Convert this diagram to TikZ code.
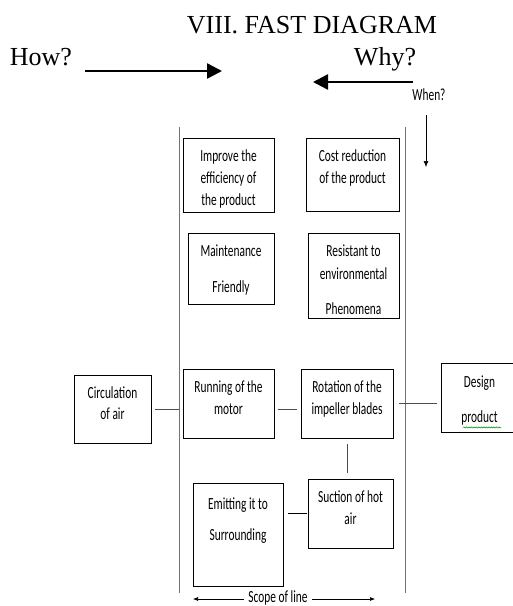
\documentclass[tikz,border=0pt]{standalone}
\usepackage{fontspec}
\setmainfont{Liberation Serif}
\newfontfamily\calibri{Carlito}[FakeStretch=0.67]
\usetikzlibrary{arrows.meta,decorations.pathmorphing}

\begin{document}
\begin{tikzpicture}
  [x=1pt,y=-1pt,
   fbox/.style={draw,line width=0.8pt,inner sep=0pt},
   ftext/.style={anchor=north,align=center,inner sep=0pt,yshift=-12pt,
     font=\calibri\fontsize{17}{22}\selectfont},
   big/.style={font=\fontsize{26}{30}\selectfont,anchor=base,inner sep=0pt},
   small/.style={font=\calibri\fontsize{17}{20}\selectfont,inner sep=0pt},
   conn/.style={draw=black!70,line width=0.8pt},
   scopeline/.style={draw=black!55,line width=0.8pt},
   bigarrow/.style={line width=2.5pt,-{Triangle[length=15pt,width=15pt]}}]
  \clip (0,0) rectangle (513,606);

  % headings
  \node (title) at (312,33) [big] {VIII. FAST DIAGRAM};
  \node (how) at (41,65) [big] {How?};
  \node (why) at (385,65) [big] {Why?};
  \node (when) at (429,100) [small,anchor=base] {When?};
  \coordinate (howa) at (85,71);
  \coordinate (howb) at (222,71);
  \coordinate (whya) at (413,82);
  \coordinate (whyb) at (313,82);
  \coordinate (whena) at (426,115);
  \coordinate (whenb) at (426,167);
  \draw [bigarrow] (howa) to (howb);
  \draw [bigarrow] (whya) to (whyb);
  \draw [-{Latex[length=6pt,width=5pt]},line width=0.6pt] (whena) to (whenb);

  % scope lines
  \coordinate (sltop) at (179,127);
  \coordinate (slbot) at (179,593);
  \coordinate (srtop) at (405,127);
  \coordinate (srbot) at (405,593);
  \draw [scopeline] (sltop) to (slbot);
  \draw [scopeline] (srtop) to (srbot);

  % boxes
  \node (improve) at (228.5,175) [fbox,minimum width=91pt,minimum height=74pt] {};
  \node (cost) at (352.5,174.5) [fbox,minimum width=93pt,minimum height=73pt] {};
  \node (maint) at (231,268.5) [fbox,minimum width=86pt,minimum height=71pt] {};
  \node (resist) at (353.5,275.5) [fbox,minimum width=91pt,minimum height=85pt] {};
  \node (circ) at (112.5,409) [fbox,minimum width=77pt,minimum height=68pt] {};
  \node (motor) at (228.5,403.5) [fbox,minimum width=91pt,minimum height=69pt] {};
  \node (rotate) at (347,403.5) [fbox,minimum width=92pt,minimum height=69pt] {};
  \node (design) at (479.5,397.5) [fbox,minimum width=77pt,minimum height=69pt] {};
  \node (suction) at (350.5,513.5) [fbox,minimum width=85pt,minimum height=69pt] {};
  \node (emit) at (238,534.5) [fbox,minimum width=90pt,minimum height=103pt] {};

  \node (improvet) at (improve.north) [ftext] {Improve the\\efficiency of\\the product};
  \node (costt) at (cost.north) [ftext] {Cost reduction\\of the product};
  \node (maintt) at (maint.north) [ftext] {Maintenance\\[14pt]Friendly};
  \node (resistt) at (resist.north) [ftext] {Resistant to\\[1pt]environmental\\[13pt]Phenomena};
  \node (circt) at (circ.north) [ftext] {Circulation\\[-1pt]of air};
  \node (motort) at (motor.north) [ftext] {Running of the\\motor};
  \node (rotatet) at (rotate.north) [ftext] {Rotation of the\\impeller blades};
  \node (designt) at (design.north) [ftext,yshift=-1pt] {Design\\[13pt]product};
  \node (suctiont) at (suction.north) [ftext] {Suction of hot\\air};
  \node (emitt) at (emit.north) [ftext,yshift=-3pt] {Emitting it to\\[9pt]Surrounding};
  \draw [green!55!black,line width=0.5pt,decorate,
    decoration={snake,amplitude=0.6pt,segment length=2.5pt}]
    ([yshift=-2pt]designt.south west) ++(2,0) -- ++(38,0);

  % connectors
  \draw [conn,shorten <=4pt] (circ.east) to (circ.east -| sltop);
  \draw [conn,shorten <=4pt,shorten >=4pt]
    ([yshift=-5.5pt]motor.east) to ([yshift=-5.5pt]rotate.west);
  \draw [conn,shorten <=6pt,shorten >=4pt] (rotate.east) to (rotate.east -| design.west);
  \draw [conn,shorten <=6pt,shorten >=6pt,xshift=-2pt]
    (rotate.south) to (rotate.south |- suction.north);
  \draw [draw=black,line width=0.8pt,shorten <=1pt,shorten >=5pt]
    (suction.west) to (suction.west -| emit.east);

  % scope of line
  \node (scope) at (278,597.5) [small] {Scope of line};
  \coordinate (scopel) at (193,599);
  \coordinate (scoper) at (375,599);
  \draw [-{Latex[length=5pt,width=4pt]},line width=0.6pt,shorten <=4pt] (scope.west |- scopel) to (scopel);
  \draw [-{Latex[length=5pt,width=4pt]},line width=0.6pt,shorten <=4pt] (scope.east |- scoper) to (scoper);
\end{tikzpicture}
\end{document}
